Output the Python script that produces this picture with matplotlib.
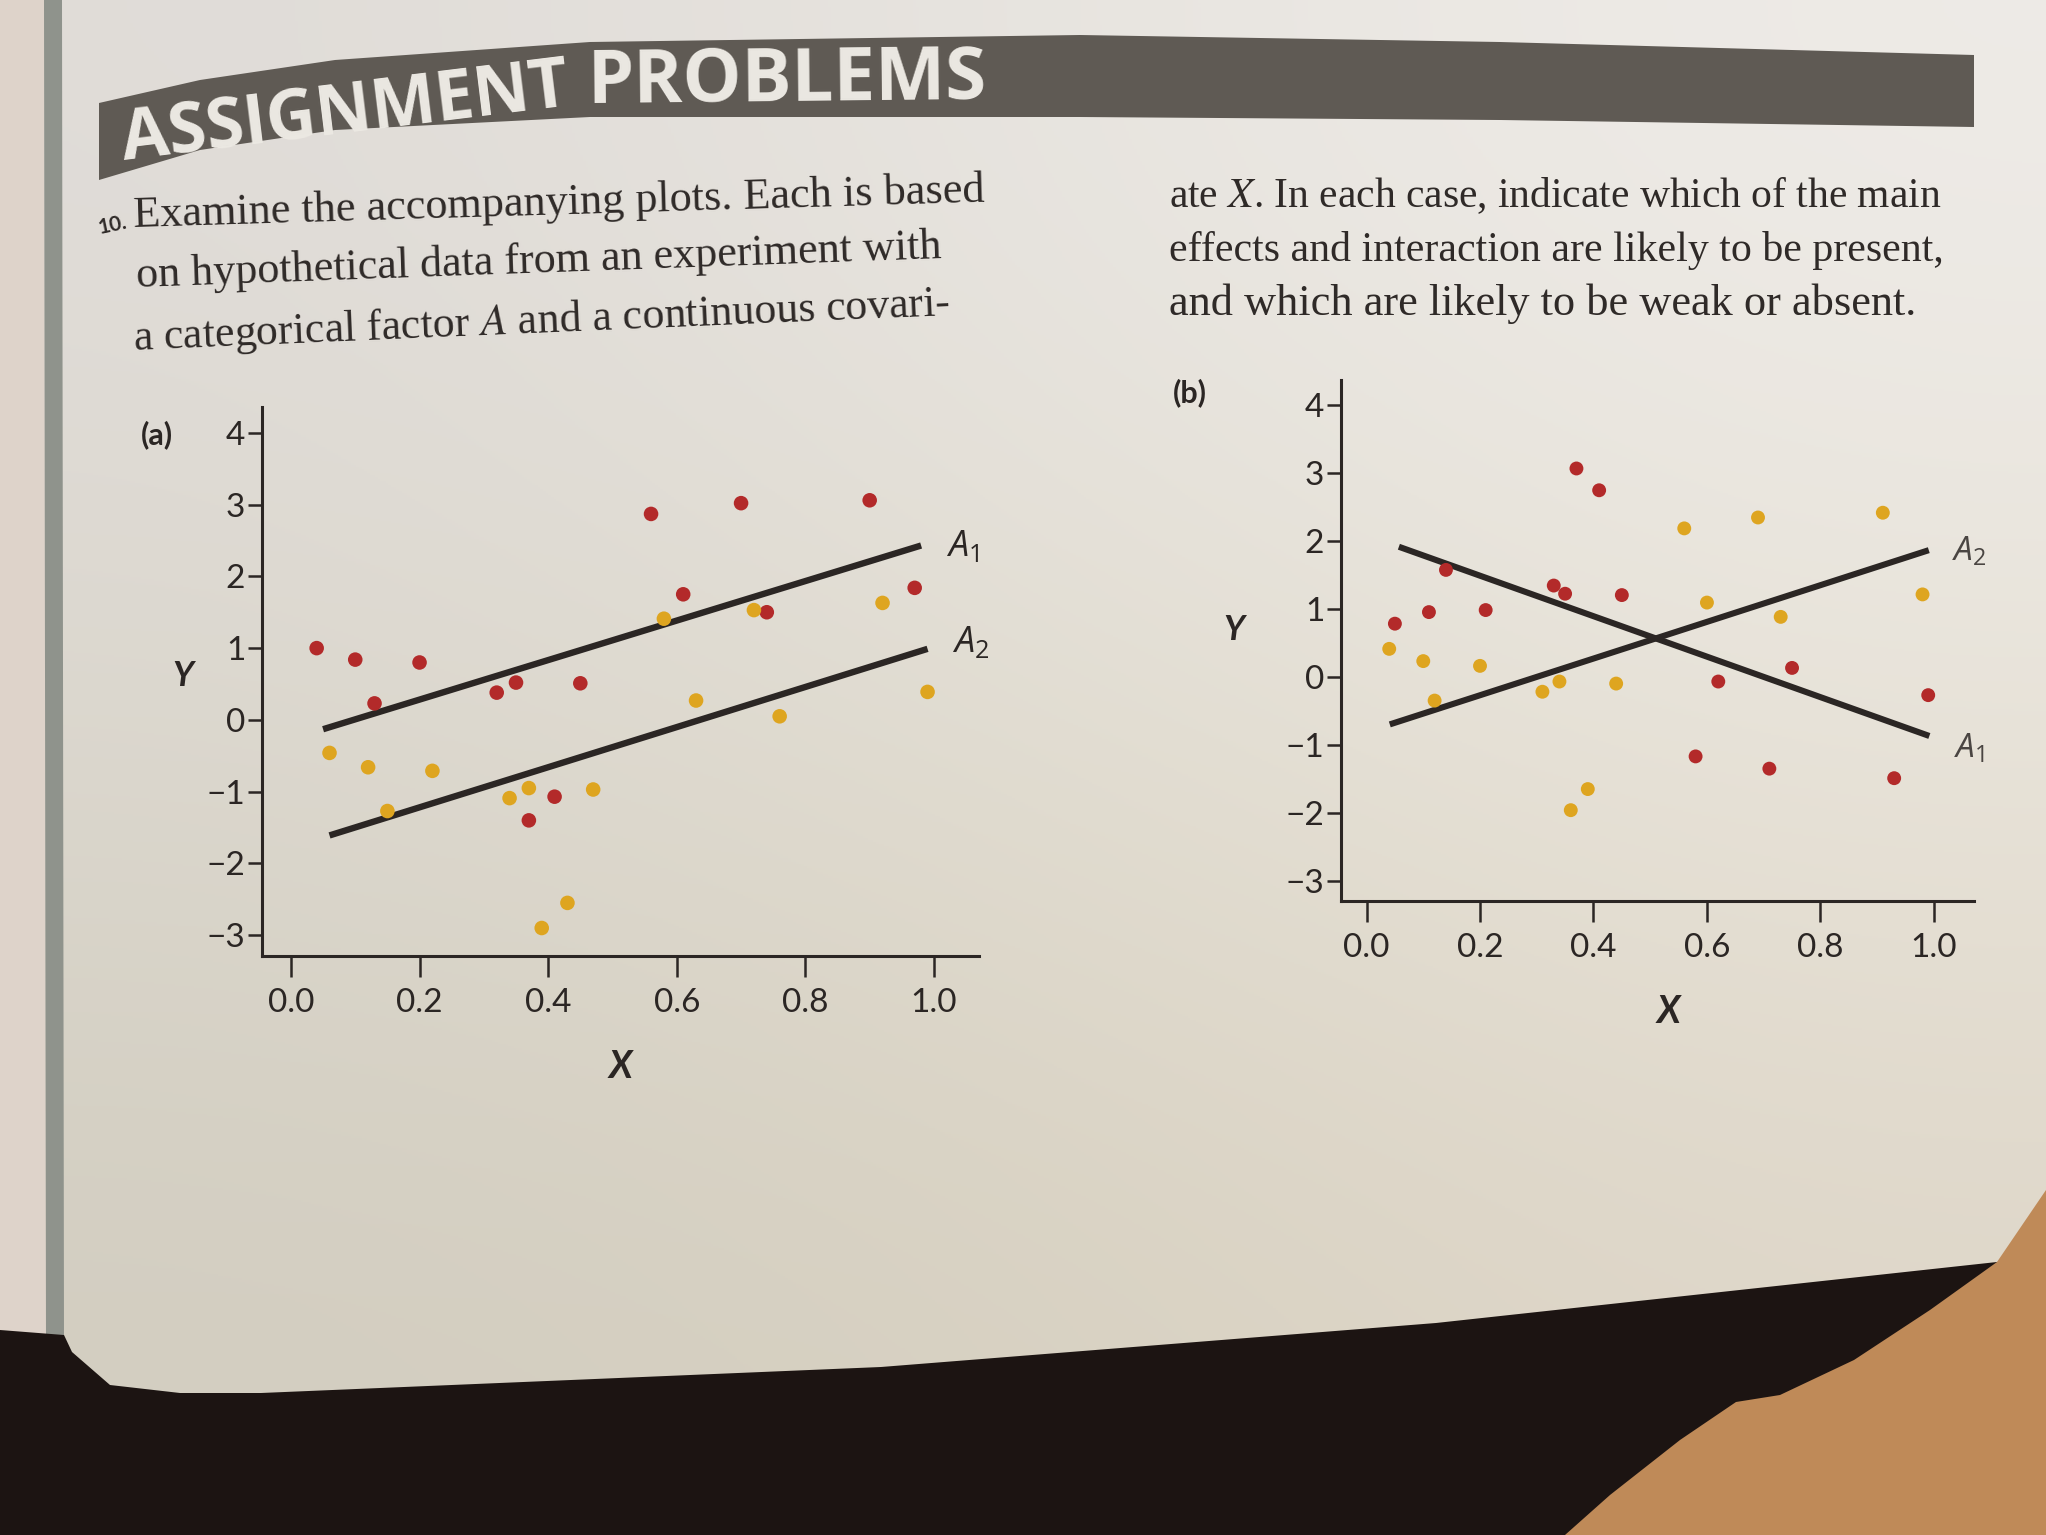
import numpy as np
import matplotlib
matplotlib.use("Agg")
import matplotlib.pyplot as plt
from matplotlib.patches import Polygon

# ---------------- data ----------------
# panel (a): categorical factor A (A1 red, A2 yellow) vs covariate X
a_red_x = [0.04, 0.10, 0.20, 0.13, 0.32, 0.35, 0.45, 0.56, 0.70, 0.90, 0.61, 0.74, 0.97, 0.41, 0.37]
a_red_y = [1.00, 0.84, 0.80, 0.23, 0.38, 0.52, 0.51, 2.87, 3.02, 3.06, 1.75, 1.50, 1.84, -1.07, -1.40]
a_yel_x = [0.72, 0.58, 0.92, 0.99, 0.63, 0.76, 0.06, 0.12, 0.22, 0.15, 0.34, 0.37, 0.47, 0.43, 0.39]
a_yel_y = [1.53, 1.41, 1.63, 0.39, 0.27, 0.05, -0.46, -0.66, -0.71, -1.27, -1.09, -0.95, -0.97, -2.55, -2.90]
a_A1_x = [0.05, 0.98]
a_A1_y = [-0.13, 2.43]
a_A2_x = [0.06, 0.99]
a_A2_y = [-1.61, 0.99]

# panel (b)
b_red_x = [0.37, 0.41, 0.14, 0.33, 0.35, 0.45, 0.05, 0.11, 0.21, 0.75, 0.62, 0.99, 0.58, 0.71, 0.93]
b_red_y = [3.06, 2.74, 1.57, 1.34, 1.22, 1.20, 0.78, 0.95, 0.98, 0.13, -0.07, -0.27, -1.17, -1.35, -1.49]
b_yel_x = [0.56, 0.69, 0.91, 0.98, 0.60, 0.73, 0.04, 0.10, 0.20, 0.34, 0.31, 0.44, 0.12, 0.36, 0.39]
b_yel_y = [2.18, 2.34, 2.41, 1.21, 1.09, 0.88, 0.41, 0.23, 0.16, -0.07, -0.22, -0.10, -0.35, -1.96, -1.65]
b_A1_x = [0.057, 0.992]
b_A1_y = [1.91, -0.87]
b_A2_x = [0.041, 0.991]
b_A2_y = [-0.70, 1.86]

x_ticks = [0.0, 0.2, 0.4, 0.6, 0.8, 1.0]
x_tick_labels = ["0.0", "0.2", "0.4", "0.6", "0.8", "1.0"]
y_ticks = [-3, -2, -1, 0, 1, 2, 3, 4]

header_words = ["ASSIGNMENT", "PROBLEMS"]
left_lines = ["Examine the accompanying plots. Each is based",
              "on hypothetical data from an experiment with",
              r"a categorical factor $A$ and a continuous covari-"]
right_lines = [r"ate $X$. In each case, indicate which of the main",
               "effects and interaction are likely to be present,",
               "and which are likely to be weak or absent."]

# ---------------- style ----------------
plt.rcParams['font.family'] = ['Lato', 'DejaVu Sans']
plt.rcParams['mathtext.fontset'] = 'custom'
plt.rcParams['mathtext.it'] = 'Open Sans:italic'
plt.rcParams['mathtext.rm'] = 'Open Sans'
plt.rcParams['axes.unicode_minus'] = True

RED = '#b32a2a'
YEL = '#dea520'
INK = '#2b2624'
PAGE_TXT = '#2f2a28'

W, H = 2046, 1535
fig = plt.figure(figsize=(W / 100, H / 100), dpi=100)

# background "page" axes in pixel coordinates
bg = fig.add_axes([0, 0, 1, 1], zorder=-5)
bg.set_xlim(0, W)
bg.set_ylim(H, 0)
bg.axis('off')
grad = np.array([
    [[224, 220, 216], [232, 229, 224], [238, 235, 231]],
    [[219, 215, 205], [225, 220, 207], [232, 227, 216]],
    [[210, 205, 192], [215, 208, 192], [222, 214, 200]],
], dtype=float) / 255.0
bg.imshow(grad, extent=(0, W, H, 0), interpolation='bicubic', aspect='auto', zorder=0)
# left gutter of the book
bg.add_patch(Polygon([(0, 0), (44, 0), (46, 1335), (0, 1330)], closed=True,
                     facecolor='#ded3ca', edgecolor='none', zorder=1))
bg.add_patch(Polygon([(44, 0), (62, 0), (64, 1340), (46, 1335)], closed=True,
                     facecolor='#8f938c', edgecolor='none', zorder=1))
# dark area below the page
bg.add_patch(Polygon([(0, 1330), (64, 1335), (72, 1352), (110, 1385), (180, 1393),
                      (261, 1393), (881, 1367), (1436, 1323), (1997, 1262), (2046, 1255),
                      (2046, H), (0, H)], closed=True,
                     facecolor='#1c1412', edgecolor='none', zorder=2))
# hand at the lower right
bg.add_patch(Polygon([(2046, 1190), (1997, 1262), (1930, 1310), (1854, 1360), (1780, 1395),
                      (1736, 1402), (1680, 1440), (1610, 1495), (1565, H), (2046, H)],
                     closed=True, facecolor='#bf8a58', edgecolor='none', zorder=3))

# header band
band = Polygon([(99, 103), (200, 80), (335, 60), (590, 42), (1080, 35), (1500, 42), (1974, 55),
                (1974, 127), (1500, 120), (1080, 117), (590, 117), (335, 130), (200, 150), (99, 180)],
               closed=True, facecolor='#5f5a54', edgecolor='none', zorder=4)
bg.add_patch(band)

renderer = fig.canvas.get_renderer()


def fit_text(x, y, s, width_px, rotation=0.0, **kw):
    t = bg.text(x, y, s, fontsize=20, rotation=0, ha='left', va='baseline',
                rotation_mode='anchor', zorder=6, **kw)
    w = t.get_window_extent(renderer=renderer).width
    t.set_fontsize(20 * width_px / w)
    t.set_rotation(rotation)
    return t


fit_text(124, 160, header_words[0], 450, rotation=7.0, color='#ece9e3',
         fontfamily=['Open Sans', 'DejaVu Sans'], fontweight='bold')
fit_text(587, 103, header_words[1], 400, rotation=0.6, color='#ece9e3',
         fontfamily=['Open Sans', 'DejaVu Sans'], fontweight='bold')

serif = ['Liberation Serif', 'DejaVu Serif']
left_pos = [(134, 227, 852, 1.7), (137, 287, 807, 2.06), (134, 350, 817, 2.45)]
for s, (x, y, w, r) in zip(left_lines, left_pos):
    t = fit_text(x, y, s, w, rotation=r, color=PAGE_TXT, fontfamily=serif)
    t.set_math_fontfamily('stix')
bg.text(100, 234, "10.", fontsize=15, fontweight='bold', color=PAGE_TXT, rotation=12,
        ha='left', va='baseline', rotation_mode='anchor', zorder=6)
right_pos = [(1169, 207, 770), (1169, 261, 774), (1169, 315, 749)]
for s, (x, y, w) in zip(right_lines, right_pos):
    t = fit_text(x, y, s, w, rotation=0.0, color=PAGE_TXT, fontfamily=serif)
    t.set_math_fontfamily('stix')


# ---------------- plots ----------------
def style_axes(ax):
    ax.set_facecolor('none')
    for side in ('top', 'right'):
        ax.spines[side].set_visible(False)
    for side in ('left', 'bottom'):
        ax.spines[side].set_linewidth(2.2)
        ax.spines[side].set_color(INK)
    ax.set_xlim(-0.045, 1.07)
    ax.set_ylim(-3.29, 4.36)
    ax.set_xticks(x_ticks)
    ax.set_xticklabels(x_tick_labels)
    ax.set_yticks(y_ticks)
    ax.tick_params(axis='x', direction='out', length=15, width=1.8, pad=8,
                   labelsize=24, colors=INK)
    ax.tick_params(axis='y', direction='out', length=10, width=1.8, pad=2,
                   labelsize=24, colors=INK)
    ax.set_xlabel('X', fontsize=27, fontstyle='italic', fontweight='bold', color=INK)
    ax.set_ylabel('Y', fontsize=25, fontstyle='italic', fontweight='bold', color=INK,
                  rotation=0)


ax_a = fig.add_axes([262 / W, 1 - 956 / H, (979 - 262) / W, (956 - 407) / H])
style_axes(ax_a)
ax_a.plot(a_A1_x, a_A1_y, color=INK, lw=4.6, solid_capstyle='butt', zorder=3)
ax_a.plot(a_A2_x, a_A2_y, color=INK, lw=4.6, solid_capstyle='butt', zorder=3)
ax_a.scatter(a_red_x, a_red_y, s=110, color=RED, edgecolors='none', zorder=4)
ax_a.scatter(a_yel_x, a_yel_y, s=110, color=YEL, edgecolors='none', zorder=4)
ax_a.annotate(r'$A_1$', (a_A1_x[1], a_A1_y[1]), xytext=(30, 0), textcoords='offset points',
              fontsize=26, color=INK, ha='center', va='center')
ax_a.annotate(r'$A_2$', (a_A2_x[1], a_A2_y[1]), xytext=(31, 5), textcoords='offset points',
              fontsize=26, color=INK, ha='center', va='center')
ax_a.xaxis.set_label_coords(0.50, -0.17)
ax_a.yaxis.set_label_coords(-0.11, 0.48)
ax_a.text(-0.146, 0.95, '(a)', transform=ax_a.transAxes, fontsize=22, fontweight='bold',
          color=INK, ha='center', va='center')

ax_b = fig.add_axes([1341 / W, 1 - 900.7 / H, (1973.6 - 1341) / W, (900.7 - 380) / H])
style_axes(ax_b)
ax_b.plot(b_A1_x, b_A1_y, color=INK, lw=4.4, solid_capstyle='butt', zorder=3)
ax_b.plot(b_A2_x, b_A2_y, color=INK, lw=4.4, solid_capstyle='butt', zorder=3)
ax_b.scatter(b_red_x, b_red_y, s=100, color=RED, edgecolors='none', zorder=4)
ax_b.scatter(b_yel_x, b_yel_y, s=100, color=YEL, edgecolors='none', zorder=4)
ax_b.annotate(r'$A_2$', (b_A2_x[1], b_A2_y[1]), xytext=(29, -1), textcoords='offset points',
              fontsize=24, color='#4a4542', ha='center', va='center')
ax_b.annotate(r'$A_1$', (b_A1_x[1], b_A1_y[1]), xytext=(29, -9), textcoords='offset points',
              fontsize=24, color='#4a4542', ha='center', va='center')
ax_b.xaxis.set_label_coords(0.517, -0.18)
ax_b.yaxis.set_label_coords(-0.17, 0.49)
ax_b.text(-0.239, 0.975, '(b)', transform=ax_b.transAxes, fontsize=22, fontweight='bold',
          color=INK, ha='center', va='center')

fig.savefig('out.png', dpi=100)
